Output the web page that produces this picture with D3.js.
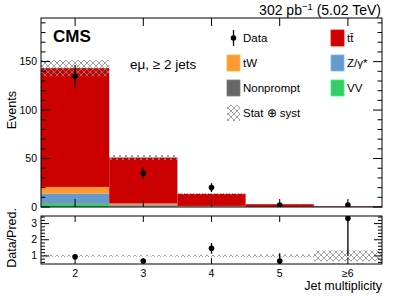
<!DOCTYPE html>
<html><head><meta charset="utf-8">
<script src="https://cdn.jsdelivr.net/npm/d3@7"></script>
<style>
body{margin:0;background:#fff;}
text{font-family:"Liberation Sans",Arial,sans-serif;}
</style></head>
<body><svg id="c" width="407" height="299"></svg>
<script>
const bins = ["2","3","4","5","≥6"];
const binCenters = [2,3,4,5,6];
const ttbar = [122.6, 47.4, 12.5, 2.63, 0.54];
const tW = [6.9, 1.6, 0.6, 0.15, 0.03];
const zgamma = [9.7, 1.4, 0.3, 0.05, 0.01];
const nonprompt = [0.5, 0.2, 0.1, 0.05, 0.02];
const vv = [3.6, 0.4, 0.1, 0.02, 0.0];
const predUnc = [8.4, 2.6, 0.9, 0.25, 0.2];
const dataVals = [135, 35, 20, 2, 2];
const dataErr = [11.6, 5.9, 4.5, 1.4, 1.4];
const mainTicks = [0, 50, 100, 150];
const ratioTicks = [1, 2, 3];

const svg = d3.select("#c");
const L = 41, R = 382, T = 18, B = 207, RT = 216, RB = 264;
const x = d3.scaleLinear().domain([1.5, 6.5]).range([L, R]);
const y = d3.scaleLinear().domain([0, 195]).range([B, T]);
const yr = d3.scaleLinear().domain([0.5, 3.47]).range([RB, RT]);

const defs = svg.append("defs");
const pat = defs.append("pattern").attr("id","hatch").attr("patternUnits","userSpaceOnUse")
  .attr("width",6).attr("height",6);
pat.append("path").attr("d","M0,0L6,6M6,0L0,6").attr("stroke","#8a8a8a").attr("stroke-width",0.8).attr("fill","none");
defs.append("clipPath").attr("id","clipMain").append("rect").attr("x",L).attr("y",T).attr("width",R-L).attr("height",B-T);
defs.append("clipPath").attr("id","clipRatio").append("rect").attr("x",L).attr("y",RT).attr("width",R-L).attr("height",RB-RT);

const colors = {vv:"#33cc66", nonprompt:"#666666", zgamma:"#6699cc", tW:"#ff9933", ttbar:"#cc0000"};
const series = [["vv",vv],["nonprompt",nonprompt],["zgamma",zgamma],["tW",tW],["ttbar",ttbar]];

const gMain = svg.append("g").attr("clip-path","url(#clipMain)");
const totals = binCenters.map((c,i)=>series.reduce((s,[k,a])=>s+a[i],0));
binCenters.forEach((c,i)=>{
  let base = 0;
  series.forEach(([k,a])=>{
    const v = a[i];
    if (v>0) gMain.append("rect").attr("x",x(c-0.5)).attr("width",x(c+0.5)-x(c-0.5))
      .attr("y",y(base+v)).attr("height",y(base)-y(base+v)).attr("fill",colors[k]);
    base += v;
  });
  gMain.append("rect").attr("x",x(c-0.5)).attr("width",x(c+0.5)-x(c-0.5))
    .attr("y",y(totals[i]+predUnc[i])).attr("height",y(totals[i]-predUnc[i])-y(totals[i]+predUnc[i]))
    .attr("fill","url(#hatch)");
});
binCenters.forEach((c,i)=>{
  gMain.append("line").attr("x1",x(c)).attr("x2",x(c)).attr("y1",y(dataVals[i]-dataErr[i])).attr("y2",y(dataVals[i]+dataErr[i]))
    .attr("stroke","#000").attr("stroke-width",1.3);
  gMain.append("circle").attr("cx",x(c)).attr("cy",y(dataVals[i])).attr("r",2.8).attr("fill","#000");
});

const gR = svg.append("g").attr("clip-path","url(#clipRatio)");
binCenters.forEach((c,i)=>{
  const ru = predUnc[i]/totals[i];
  gR.append("rect").attr("x",x(c-0.5)).attr("width",x(c+0.5)-x(c-0.5))
    .attr("y",yr(1+ru)).attr("height",yr(1-ru)-yr(1+ru)).attr("fill","url(#hatch)");
});
binCenters.forEach((c,i)=>{
  const r = dataVals[i]/totals[i], re = dataErr[i]/totals[i];
  gR.append("line").attr("x1",x(c)).attr("x2",x(c)).attr("y1",yr(r-re)).attr("y2",yr(r+re))
    .attr("stroke","#000").attr("stroke-width",1.3);
  gR.append("circle").attr("cx",x(c)).attr("cy",yr(r)).attr("r",2.8).attr("fill","#000");
});

[[T,B],[RT,RB]].forEach(([t,b])=>{
  svg.append("rect").attr("x",L).attr("y",t).attr("width",R-L).attr("height",b-t)
    .attr("fill","none").attr("stroke","#000").attr("stroke-width",1);
});

function tick(x1,y1,x2,y2){svg.append("line").attr("x1",x1).attr("y1",y1).attr("x2",x2).attr("y2",y2).attr("stroke","#000").attr("stroke-width",1);}
d3.range(0,196,10).forEach(v=>{
  const major = v%50===0, len = major?9:4.5;
  tick(L,y(v),L+len,y(v)); tick(R,y(v),R-len,y(v));
});
mainTicks.forEach(v=>{
  svg.append("text").attr("x",L-4).attr("y",y(v)+3.5).attr("text-anchor","end").attr("font-size",10.5).text(v);
});
binCenters.forEach(c=>{ tick(x(c),B,x(c),B-8); tick(x(c),T,x(c),T+8); });
d3.range(0.6,3.45,0.2).forEach(v=>{
  const major = Math.abs(v-Math.round(v))<1e-6, len = major?8:4;
  tick(L,yr(v),L+len,yr(v)); tick(R,yr(v),R-len,yr(v));
});
ratioTicks.forEach(v=>{
  svg.append("text").attr("x",L-4).attr("y",yr(v)+3.5).attr("text-anchor","end").attr("font-size",10.5).text(v);
});
binCenters.forEach((c,i)=>{
  tick(x(c),RB,x(c),RB-6); tick(x(c),RT,x(c),RT+6);
  svg.append("text").attr("x",x(c)).attr("y",277).attr("text-anchor","middle").attr("font-size",10.5).text(bins[i]);
});

svg.append("text").attr("transform","translate(16,91) rotate(-90)").attr("text-anchor","end").attr("font-size",12.5).text("Events");
svg.append("text").attr("transform","translate(16,208) rotate(-90)").attr("text-anchor","end").attr("font-size",12.5).text("Data/Pred.");
svg.append("text").attr("x",382).attr("y",290).attr("text-anchor","end").attr("font-size",12.5).text("Jet multiplicity");
svg.append("text").attr("x",53).attr("y",42).attr("font-size",17).attr("font-weight","bold").text("CMS");
const lumi = svg.append("text").attr("x",381).attr("y",15).attr("text-anchor","end").attr("font-size",14);
lumi.append("tspan").text("302 pb");
lumi.append("tspan").attr("dy",-5).attr("font-size",9.5).text("−1");
lumi.append("tspan").attr("dy",5).text(" (5.02 TeV)");
svg.append("text").attr("x",130).attr("y",69).attr("font-size",13.5).text("eμ, ≥ 2 jets");

const leg = [
  {col:0,row:0,type:"data",label:"Data"},
  {col:1,row:0,type:"box",key:"ttbar",label:"tt̄"},
  {col:0,row:1,type:"box",key:"tW",label:"tW"},
  {col:1,row:1,type:"box",key:"zgamma",label:"Z/γ*"},
  {col:0,row:2,type:"box",key:"nonprompt",label:"Nonprompt"},
  {col:1,row:2,type:"box",key:"vv",label:"VV"},
  {col:0,row:3,type:"hatch",label:"Stat ⊕ syst"}
];
const colX = [227, 331], rowY = [38, 63, 88, 113];
leg.forEach(d=>{
  const bx = colX[d.col], cy = rowY[d.row];
  if (d.type==="data"){
    svg.append("line").attr("x1",bx+6.5).attr("x2",bx+6.5).attr("y1",cy-8).attr("y2",cy+8).attr("stroke","#000").attr("stroke-width",1.3);
    svg.append("circle").attr("cx",bx+6.5).attr("cy",cy).attr("r",2.8).attr("fill","#000");
  } else if (d.type==="box"){
    svg.append("rect").attr("x",bx).attr("y",cy-8).attr("width",13).attr("height",16)
      .attr("fill",colors[d.key]).attr("stroke",d3.color(colors[d.key]).brighter(0.5)).attr("stroke-width",0.8);
  } else {
    svg.append("rect").attr("x",bx).attr("y",cy-8).attr("width",13).attr("height",16).attr("fill","url(#hatch)");
  }
  svg.append("text").attr("x",bx+16).attr("y",cy+4).attr("font-size",11.5).text(d.label);
});
</script></body></html>
